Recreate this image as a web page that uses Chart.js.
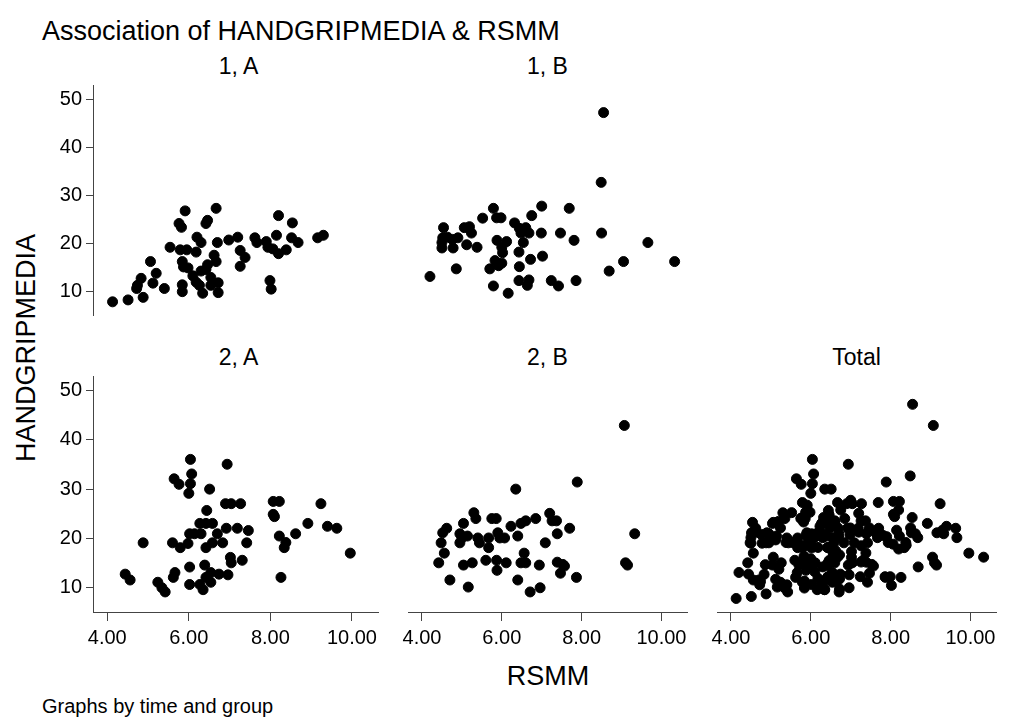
<!DOCTYPE html>
<html>
<head>
<meta charset="utf-8">
<title>Association of HANDGRIPMEDIA &amp; RSMM</title>
<script src="https://cdn.jsdelivr.net/npm/chart.js@4.4.0/dist/chart.umd.min.js"></script>
<style>
  body { margin: 0; background: #fff; }
  #page { position: relative; width: 1009px; height: 720px; overflow: hidden; font-family: 'Liberation Sans', Arial, sans-serif; color: #000; }
  .box { position: absolute; }
  .txt { position: absolute; white-space: nowrap; line-height: 1; }
  .mid { transform: translateX(-50%); }
</style>
</head>
<body>
<div id="page">
  <div class="txt" style="left:42px; top:18px; font-size:27px;">Association of HANDGRIPMEDIA &amp; RSMM</div>
  <div class="txt mid" style="left:548px; top:663px; font-size:27px;">RSMM</div>
  <div class="txt" style="left:42px; top:696px; font-size:20px;">Graphs by time and group</div>
  <div class="txt" style="left:26px; top:348px; font-size:27px; transform: translate(-50%, -50%) rotate(-90deg);">HANDGRIPMEDIA</div>
</div>
<script>
'use strict';
// ******* Data *******
let xTicks = [4, 6, 8, 10];
let yTicks = [10, 20, 30, 40, 50];
let panelNames = ['1, A', '1, B', '2, A', '2, B', 'Total'];

// time 1, group A
let rsmm1A = [4.13, 4.51, 4.88, 4.74, 4.83, 4.72, 5.12, 5.20, 5.06, 5.40, 5.54, 5.84, 5.84, 5.79, 5.95, 5.84,
  5.87, 5.98, 5.76, 5.82, 5.91, 6.10, 6.18, 6.26, 6.20, 6.30, 6.18, 6.34, 6.46, 6.42, 6.67, 6.70, 6.46, 6.42,
  6.30, 6.62, 6.67, 6.54, 6.54, 6.72, 6.72, 6.98, 7.20, 7.26, 7.38, 7.26, 7.62, 7.67, 7.90, 7.94, 8.06, 8.15,
  8.20, 8.20, 8.39, 8.54, 8.52, 8.68, 9.16, 9.30, 7.99, 8.02];
let grip1A = [7.75, 8.15, 8.68, 11.19, 12.65, 10.53, 11.65, 13.70, 16.15, 10.53, 19.13, 11.30, 9.87, 18.60, 18.60, 16.15,
  15.03, 14.83, 24.10, 23.30, 26.73, 13.17, 11.85, 11.19, 21.24, 20.12, 18.13, 9.54, 24.75, 24.09, 27.26, 20.12, 15.49, 14.50,
  14.17, 17.47, 16.15, 12.84, 11.19, 11.72, 9.67, 20.65, 21.24, 18.47, 17.01, 15.16, 21.11, 20.12, 20.32, 19.13, 18.80, 21.64,
  25.74, 17.80, 18.60, 24.22, 21.11, 20.12, 21.11, 21.64, 12.18, 10.40];

// time 1, group B
let rsmm1B = [4.20, 4.86, 4.54, 4.52, 4.50, 4.50, 4.64, 4.76, 4.78, 4.90, 5.06, 5.19, 5.24, 5.12, 5.38, 5.52,
  5.79, 5.87, 5.98, 5.88, 6.12, 6.00, 6.02, 5.70, 5.83, 5.92, 6.00, 5.79, 6.16, 6.32, 6.44, 6.48, 6.60, 6.68,
  6.54, 6.43, 6.44, 6.43, 6.64, 6.68, 6.75, 7.00, 6.99, 6.72, 7.02, 7.24, 8.55, 8.49, 7.69, 7.47, 7.81, 8.50,
  9.66, 9.05, 10.33, 8.69, 7.42, 7.86];
let grip1B = [13.04, 14.63, 23.23, 21.11, 20.12, 18.99, 21.24, 20.78, 18.99, 21.11, 23.23, 23.43, 22.10, 19.66, 19.13, 25.21,
  27.26, 25.28, 25.28, 20.58, 20.32, 19.13, 18.00, 14.63, 16.35, 15.29, 15.82, 11.06, 9.54, 24.22, 23.10, 22.10, 23.23, 22.10,
  20.12, 18.13, 15.09, 12.18, 11.19, 12.32, 25.74, 27.72, 22.10, 16.61, 17.28, 12.18, 47.24, 32.68, 27.26, 22.10, 20.58, 22.10,
  20.12, 16.15, 16.15, 14.17, 11.06, 12.18];

// time 2, group A
let rsmm2A = [6.04, 6.94, 5.64, 5.76, 6.07, 6.04, 6.00, 6.51, 6.90, 7.04, 7.27, 6.44, 6.27, 6.42, 6.58, 6.92,
  7.19, 4.88, 5.60, 5.79, 5.98, 6.02, 6.14, 6.30, 6.70, 6.58, 6.42, 6.83, 7.02, 7.04, 4.44, 4.56, 5.24, 5.34,
  5.42, 5.66, 5.62, 6.02, 6.02, 6.39, 6.54, 6.42, 6.54, 6.27, 6.35, 6.74, 6.96, 7.46, 7.42, 7.31, 8.07, 8.22,
  8.07, 8.10, 9.24, 8.92, 9.40, 9.63, 8.22, 8.62, 8.38, 8.34, 9.96, 8.26];
let grip2A = [36.04, 35.05, 32.09, 30.97, 33.08, 31.10, 29.13, 29.99, 27.03, 27.03, 27.03, 25.65, 23.02, 23.02, 23.02, 22.03,
  22.03, 19.07, 19.07, 18.09, 18.94, 20.91, 20.91, 20.91, 20.91, 19.07, 18.09, 19.07, 16.11, 15.00, 12.70, 11.51, 11.05, 9.93,
  9.08, 13.02, 12.04, 14.14, 10.59, 14.54, 13.02, 12.04, 11.05, 10.59, 9.54, 12.70, 12.56, 21.57, 19.07, 15.52, 27.49, 27.49,
  24.86, 24.40, 27.03, 23.02, 22.43, 22.03, 20.45, 20.91, 19.14, 18.09, 16.97, 12.04];

// time 2, group B
let rsmm2B = [6.35, 5.30, 5.35, 5.04, 4.62, 4.52, 4.48, 4.56, 4.42, 4.70, 4.95, 5.00, 5.14, 4.95, 5.40, 5.44,
  5.67, 5.67, 5.75, 5.86, 5.90, 5.95, 6.07, 6.23, 6.48, 6.60, 6.85, 6.40, 5.04, 5.26, 5.60, 5.87, 5.88, 6.11,
  5.16, 6.56, 6.48, 6.60, 6.40, 6.71, 6.96, 6.94, 7.09, 9.07, 7.89, 7.20, 7.26, 7.37, 7.70, 7.39, 7.39, 7.53,
  7.57, 7.47, 7.87, 9.33, 9.10, 9.15];
let grip2B = [29.99, 25.19, 24.00, 23.02, 22.03, 21.11, 19.07, 16.97, 15.00, 11.51, 20.91, 20.06, 20.45, 19.07, 20.06, 19.07,
  20.06, 18.09, 24.00, 24.00, 21.11, 20.06, 20.06, 22.43, 23.02, 23.54, 24.00, 20.45, 14.54, 15.00, 15.52, 15.52, 13.48, 15.00,
  10.07, 16.97, 15.00, 15.00, 11.51, 9.08, 9.93, 14.54, 19.07, 42.94, 31.43, 25.06, 23.54, 23.54, 22.03, 20.91, 15.13, 14.67,
  14.34, 12.89, 12.04, 20.91, 15.00, 14.54];

// Total panel is every observation together
let rsmmTotal = [].concat(rsmm1A, rsmm1B, rsmm2A, rsmm2B);
let gripTotal = [].concat(grip1A, grip1B, grip2A, grip2B);

// ****** Layout ******
let plotW = 291;
let plotH = 242;
let colLeft = [93, 402, 711];
let rowTop = [79, 370];
let yAxisW = 60;
let xAxisH = 50;
let axisColor = '#444';

Chart.defaults.font.family = "'Liberation Sans', Arial, sans-serif";
Chart.defaults.color = '#000';

let page = document.getElementById('page');

function addSubtitle(text, col, row) {
  let div = document.createElement('div');
  div.className = 'txt mid';
  div.style.left = (colLeft[col] + plotW / 2) + 'px';
  div.style.top = (rowTop[row] - 24) + 'px';
  div.style.fontSize = '23px';
  div.textContent = text;
  page.appendChild(div);
}

function makePanel(name, xs, ys, col, row) {
  let showY = col === 0;
  let showX = row === 1;

  // wrapper sets the canvas size, chart fills it
  let box = document.createElement('div');
  box.className = 'box';
  box.style.left = (colLeft[col] - (showY ? yAxisW : 0)) + 'px';
  box.style.top = rowTop[row] + 'px';
  box.style.width = (plotW + (showY ? yAxisW : 0)) + 'px';
  box.style.height = (plotH + (showX ? xAxisH : 0)) + 'px';
  let canvas = document.createElement('canvas');
  box.appendChild(canvas);
  page.appendChild(box);

  addSubtitle(name, col, row);

  let points = [];
  for (let i = 0; i < xs.length; i++) {
    points.push({ x: xs[i], y: ys[i] });
  }

  new Chart(canvas, {
    type: 'scatter',
    data: {
      datasets: [{
        label: name,
        data: points,
        backgroundColor: '#000',
        borderColor: '#000',
        borderWidth: 1,
        pointRadius: 5,
        pointHoverRadius: 5,
        clip: false
      }]
    },
    options: {
      responsive: true,
      maintainAspectRatio: false,
      animation: false,
      devicePixelRatio: 1,
      layout: { padding: 0 },
      plugins: {
        legend: { display: false },
        tooltip: { enabled: false }
      },
      scales: {
        x: {
          type: 'linear',
          display: showX,
          min: 3.65,
          max: 10.64,
          afterBuildTicks: function (scale) {
            scale.ticks = xTicks.map(v => ({ value: v }));
          },
          afterFit: function (scale) {
            scale.height = showX ? xAxisH : 0;
            // ticks sit inside the range, no extra room needed
            scale.paddingLeft = 0;
            scale.paddingRight = 0;
          },
          ticks: {
            font: { size: 20 },
            padding: 5,
            maxRotation: 0,
            autoSkip: false,
            callback: v => Number(v).toFixed(2)
          },
          grid: { drawOnChartArea: false, tickLength: 9, color: axisColor },
          border: { color: axisColor, width: 1 }
        },
        y: {
          type: 'linear',
          display: showY,
          min: 5,
          max: 53,
          afterBuildTicks: function (scale) {
            scale.ticks = yTicks.map(v => ({ value: v }));
          },
          afterFit: function (scale) {
            scale.width = showY ? yAxisW : 0;
            scale.paddingTop = 0;
            scale.paddingBottom = 0;
          },
          ticks: {
            font: { size: 20 },
            padding: 4,
            autoSkip: false
          },
          grid: { drawOnChartArea: false, tickLength: 7, color: axisColor },
          border: { color: axisColor, width: 1 }
        }
      }
    }
  });
}

makePanel(panelNames[0], rsmm1A, grip1A, 0, 0);
makePanel(panelNames[1], rsmm1B, grip1B, 1, 0);
makePanel(panelNames[2], rsmm2A, grip2A, 0, 1);
makePanel(panelNames[3], rsmm2B, grip2B, 1, 1);
makePanel(panelNames[4], rsmmTotal, gripTotal, 2, 1);
</script>
</body>
</html>
